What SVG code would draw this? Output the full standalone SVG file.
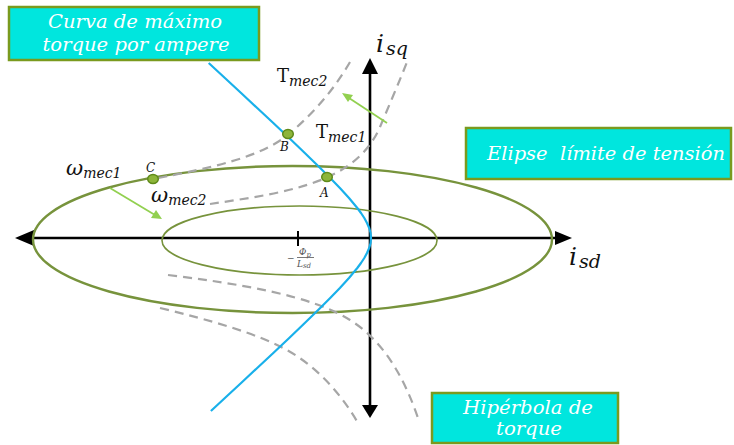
<svg xmlns="http://www.w3.org/2000/svg" width="734" height="445" viewBox="0 0 734 445">
<style>
.box{fill:#00e6de;stroke:#7a9a1e;stroke-width:2.5}
.bt{fill:#ffffff;font-family:"DejaVu Serif","Liberation Serif",serif;font-style:italic;font-size:19px}
.axis{stroke:#000;stroke-width:2.6;fill:none}
.ah{fill:#000}
.ell{fill:none;stroke:#77933c}
.dash{fill:none;stroke:#a6a6a6;stroke-width:2.2;stroke-dasharray:9 6}
.blue{fill:none;stroke:#19b0ea;stroke-width:2.2;stroke-linejoin:round}
.garrow{stroke:#92d050;stroke-width:1.8;fill:none}
.gah{fill:#92d050}
.pt{fill:#8db53a;stroke:#5f8a1a;stroke-width:1.5}
.m{font-family:"DejaVu Serif","Liberation Serif",serif;fill:#111}
.mi{font-style:italic}
.fr{font-family:"DejaVu Serif","Liberation Serif",serif;fill:#555;font-style:italic;font-size:9px}
</style>

<g id="axes">
  <line class="axis" x1="30" y1="238" x2="558" y2="238"/>
  <polygon class="ah" points="15,238 34,230 34,246"/>
  <polygon class="ah" points="572,238 555,231 555,245"/>
  <line class="axis" x1="370" y1="70" x2="370" y2="408" stroke-width="3"/>
  <polygon class="ah" points="370,58 362,74 378,74"/>
  <polygon class="ah" points="370,418 362,405 378,405"/>
  <line x1="298" y1="231" x2="298" y2="246" stroke="#000" stroke-width="2"/>
</g>

<g id="ellipses">
  <ellipse class="ell" cx="292.5" cy="239.5" rx="259.5" ry="73.5" stroke-width="2.4"/>
  <ellipse class="ell" cx="299.5" cy="240.5" rx="137.5" ry="34.5" stroke-width="1.6"/>
</g>

<g id="hyperbolas">
  <path class="dash" d="M350,62 C335,88 315,112 289,134 C260,158 210,168 153,179"/>
  <path class="dash" d="M210,204 C250,198 295,192 328,177 C352,166 370,150 380,127 C388,108 400,80 407,62"/>
  <path class="dash" d="M168,275 C240,284 310,295 350,320 C385,342 405,380 418,418"/>
  <path class="dash" d="M160,308 C210,320 255,333 285,349 C315,365 340,392 358,423"/>
</g>

<g id="mtpa-curve">
  <polyline class="blue" points="208.7,63 224.9,78 241.1,93 257.2,108 273.3,123 289.2,138 304.8,153 320.2,168 330.2,178 339.9,188 349,198 357.3,208 361,213 364.3,218 367,223 369.2,228 370.6,233 371,238 370.6,243 369.2,248 367,253 364.3,258 361,263 357.3,268 349,278 339.9,288 330.2,298 320.2,308 304.8,323 289.2,338 273.3,353 257.2,368 241.1,383 224.9,398 210.9,411"/>
</g>

<g id="connectors">
  <line class="garrow" x1="387" y1="123" x2="349" y2="98"/>
  <polygon class="gah" points="342,93 353,95 348,102"/>
  <line class="garrow" x1="110" y1="188" x2="155" y2="215"/>
  <polygon class="gah" points="162,219 151,218 156,210"/>
</g>

<g id="points">
  <g id="point-C"><ellipse class="pt" cx="153" cy="179" rx="5.3" ry="4.6"/><text class="m mi" x="146" y="172" font-size="12">C</text></g>
  <g id="point-B"><ellipse class="pt" cx="288" cy="134" rx="5.3" ry="4.6"/><text class="m mi" x="280" y="151" font-size="12">B</text></g>
  <g id="point-A"><ellipse class="pt" cx="327" cy="177" rx="5.3" ry="4.6"/><text class="m mi" x="320" y="197" font-size="12">A</text></g>
</g>

<g id="labels">
  <text class="m" x="277" y="82"><tspan font-size="18">T</tspan><tspan class="mi" font-size="14" dy="4">mec2</tspan></text>
  <text class="m" x="316" y="138"><tspan font-size="18">T</tspan><tspan class="mi" font-size="14" dy="4">mec1</tspan></text>
  <text class="m" x="66" y="175"><tspan class="mi" font-size="21">ω</tspan><tspan class="mi" font-size="14" dy="3">mec1</tspan></text>
  <text class="m" x="151" y="202"><tspan class="mi" font-size="21">ω</tspan><tspan class="mi" font-size="14" dy="3">mec2</tspan></text>
  <text class="m" x="376" y="52"><tspan class="mi" font-size="25">i</tspan><tspan class="mi" font-size="19" dx="2" dy="3">sq</tspan></text>
  <text class="m" x="569" y="265"><tspan class="mi" font-size="25">i</tspan><tspan class="mi" font-size="19" dx="2" dy="3">sd</tspan></text>
  <text class="fr" x="287" y="261" font-style="normal" font-size="10">−</text>
  <text class="fr" x="299" y="255">Φ<tspan font-size="7" dy="1.5">p</tspan></text>
  <line x1="297" y1="257.5" x2="314" y2="257.5" stroke="#555" stroke-width="0.8"/>
  <text class="fr" x="297" y="267">L<tspan font-size="7" dy="1">sd</tspan></text>
</g>

<g id="box-mtpa">
  <rect class="box" x="9" y="7" width="250" height="53"/>
  <text class="bt" x="135" y="28" text-anchor="middle" textLength="174" lengthAdjust="spacingAndGlyphs">Curva de máximo</text>
  <text class="bt" x="136" y="51" text-anchor="middle" textLength="187" lengthAdjust="spacingAndGlyphs">torque por ampere</text>
</g>

<g id="box-ellipse">
  <rect class="box" x="466" y="128" width="265" height="51"/>
  <text class="bt" x="487" y="160" textLength="238" lengthAdjust="spacingAndGlyphs" xml:space="preserve">Elipse  límite de tensión</text>
</g>

<g id="box-hyperbola">
  <rect class="box" x="432" y="393" width="186" height="50"/>
  <text class="bt" x="528" y="414" text-anchor="middle" textLength="130" lengthAdjust="spacingAndGlyphs">Hipérbola de</text>
  <text class="bt" x="529" y="435" text-anchor="middle" textLength="66" lengthAdjust="spacingAndGlyphs">torque</text>
</g>
</svg>
